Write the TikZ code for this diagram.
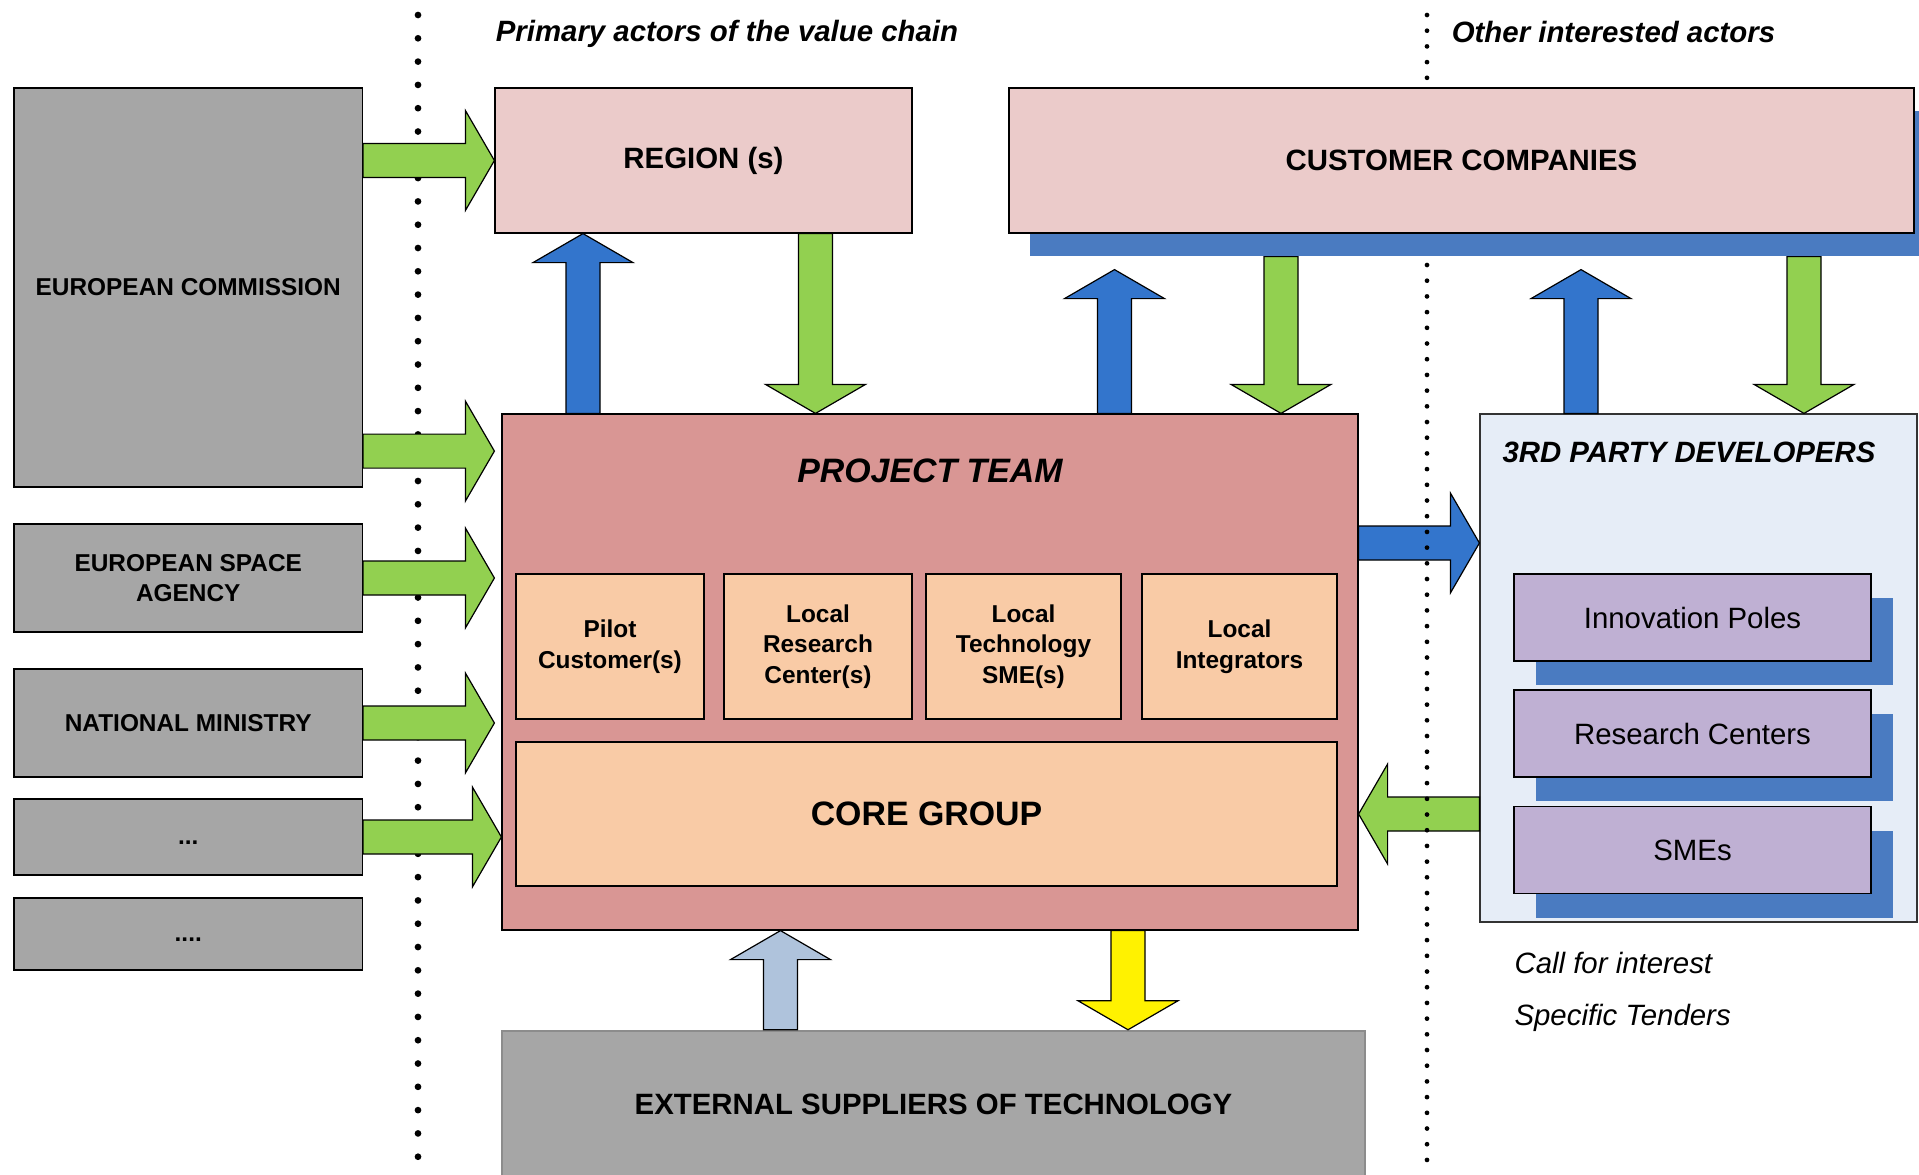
\documentclass[tikz,border=0pt]{standalone}
\usepackage{fontspec}
\setmainfont{Liberation Sans}
\usepackage{tikz}
\usetikzlibrary{calc,shadows}
\definecolor{boxgrey}{HTML}{A6A6A6}
\definecolor{palepink}{HTML}{EBCBCA}
\definecolor{teamred}{HTML}{D99694}
\definecolor{peach}{HTML}{F9CBA6}
\definecolor{arrowgreen}{HTML}{92D050}
\definecolor{arrowblue}{HTML}{3375CC}
\definecolor{shadowblue}{HTML}{4A7BC1}
\definecolor{paleblue}{HTML}{AFC3DC}
\definecolor{thirdfill}{HTML}{E6EDF7}
\definecolor{lilac}{HTML}{BFB0D3}

\newcommand\boxfont{\fontsize{24.5}{30.6}\selectfont}
\newcommand\headfont{\fontsize{29.5}{35}\selectfont}
\newcommand\titlefont{\fontsize{34}{40}\selectfont}
\newcommand\lowdots[1]{\smash{\raisebox{-7bp}{#1}}}

% fat arrow from #2 (tail) to #3 (tip)
\newcommand\blockarrow[3][]{%
	\coordinate (ba-s) at (#2);
	\coordinate (ba-t) at (#3);
	\coordinate (ba-h) at ($(ba-t)!\headlen!(ba-s)$);
	\filldraw[blockarrow,#1] ($(ba-s)!\shaftw!90:(ba-t)$) -- ($(ba-h)!\shaftw!90:(ba-t)$)
		-- ($(ba-h)!\headw!90:(ba-t)$) -- (ba-t) -- ($(ba-h)!\headw!-90:(ba-t)$)
		-- ($(ba-h)!\shaftw!-90:(ba-t)$) -- ($(ba-s)!\shaftw!-90:(ba-t)$) -- cycle;}

\tikzset{
	box/.style={rectangle, draw=black, line width=1.2bp, inner sep=0pt, align=center},
	greybox/.style={box, fill=boxgrey, font=\boxfont\bfseries},
	pinkbox/.style={box, fill=palepink, font=\headfont\bfseries},
	peachbox/.style={box, fill=peach, font=\boxfont\bfseries},
	lilacbox/.style={box, fill=lilac, font=\headfont,
		drop shadow={shadow xshift=22bp, shadow yshift=-24bp, fill=shadowblue, opacity=1}},
	blockarrow/.style={draw=black, line width=1.2bp, line join=miter},
	greenarrow/.style={blockarrow, fill=arrowgreen},
	bluearrow/.style={blockarrow, fill=arrowblue},
	dotline/.style={line cap=round, line width=6.7bp, dash pattern=on 0bp off 23.3bp},
	dotsmall/.style={line cap=round, line width=4.7bp, dash pattern=on 0bp off 15.7bp}
}

\begin{document}
\begin{tikzpicture}[x=1bp, y=-1bp]
	\def\shaftw{17bp}
	\def\headw{50bp}
	\def\headlen{29bp}
	
	\useasboundingbox (0,0) rectangle (1919,1174);
	\clip (0,0) rectangle (1919,1174);
	
	\draw[dotline] (418,15) -- (418,1174);
	
	\node[font=\headfont\bfseries\itshape] (primary) at (727,34) {Primary actors of the value chain};
	\node[font=\headfont\bfseries\itshape] (others) at (1613.5,32) {Other interested actors};
	
	% funding bodies
	\node[greybox, minimum width=348.5bp, minimum height=399bp] (ec) at (188.25,287.5) {EUROPEAN COMMISSION};
	\node[greybox, minimum width=348.5bp, minimum height=108bp] (esa) at (188.25,578) {EUROPEAN SPACE\\AGENCY};
	\node[greybox, minimum width=348.5bp, minimum height=108bp] (nm) at (188.25,723) {NATIONAL MINISTRY};
	\node[greybox, minimum width=348.5bp, minimum height=76bp] (more1) at (188.25,837) {\lowdots{...}};
	\node[greybox, minimum width=348.5bp, minimum height=72bp] (more2) at (188.25,934) {\lowdots{....}};
	
	\node[pinkbox, minimum width=417bp, minimum height=145bp] (region) at (703.5,160.5) {REGION (s)};
	\node[pinkbox, minimum width=905bp, minimum height=145bp,
		drop shadow={shadow xshift=21bp, shadow yshift=-23bp, fill=shadowblue, opacity=1}]
		(cust) at (1461.5,160.5) {CUSTOMER COMPANIES};
	
	% project team and its members
	\node[box, fill=teamred, minimum width=856bp, minimum height=516bp] (team) at (930,672) {};
	\node[font=\titlefont\bfseries\itshape] (team-title) at (930,471) {PROJECT TEAM};
	\node[peachbox, minimum width=188bp, minimum height=145bp] (pilot) at (610,646.5) {Pilot\\Customer(s)};
	\node[peachbox, minimum width=188bp, minimum height=145bp] (research) at (818,646.5) {Local\\Research\\Center(s)};
	\node[peachbox, minimum width=195bp, minimum height=145bp] (tech) at (1023.5,646.5) {Local\\Technology\\SME(s)};
	\node[peachbox, minimum width=195bp, minimum height=145bp] (integ) at (1239.5,646.5) {Local\\Integrators};
	\node[box, fill=peach, font=\titlefont\bfseries, minimum width=821bp, minimum height=144bp] (core) at (926.5,814) {CORE GROUP};
	
	\node[greybox, draw=black!45, line width=2.5bp, font=\headfont\bfseries, minimum width=863bp, minimum height=146bp]
		(ext) at (933.5,1104) {EXTERNAL SUPPLIERS OF TECHNOLOGY};
	
	% third parties
	\node[box, fill=thirdfill, draw=black!80, minimum width=437bp, minimum height=508bp] (third) at (1698.5,668) {};
	\node[font=\headfont\bfseries\itshape, anchor=west] (third-title) at (1499,452) {3RD PARTY DEVELOPERS};
	\node[lilacbox, minimum width=357bp, minimum height=87bp] (innov) at (1692.5,617.5) {Innovation Poles};
	\node[lilacbox, minimum width=357bp, minimum height=87bp] (rescen) at (1692.5,733.5) {Research Centers};
	\node[lilacbox, minimum width=357bp, minimum height=87bp] (smes) at (1692.5,850) {SMEs};
	\node[font=\headfont\itshape, anchor=west] (call) at (1511,963) {Call for interest};
	\node[font=\headfont\itshape, anchor=west] (tenders) at (1511,1018) {Specific Tenders};
	
	% arrows
	\coordinate (ec-out) at ($(ec.south east)+(0,-36.5)$);
	\coordinate (cust-low) at ($(cust.south)+(0,23)$);
	\coordinate (cust-gap) at ($(cust.south)+(0,36)$);
	\coordinate (c1) at (583,0);
	\coordinate (c2) at (815.5,0);
	\coordinate (c3) at (1114.5,0);
	\coordinate (c4) at (1281,0);
	\coordinate (c5) at (1581,0);
	\coordinate (c6) at (1804,0);
	\coordinate (c7) at (780.5,0);
	\coordinate (c8) at (1128,0);
	\coordinate (r1) at (0,543);
	
	\blockarrow[greenarrow]{ec.east |- region.west}{region.west}
	\blockarrow[greenarrow]{ec-out}{region.west |- ec-out}
	\blockarrow[greenarrow]{esa.east}{region.west |- esa.east}
	\blockarrow[greenarrow]{nm.east}{region.west |- nm.east}
	\blockarrow[greenarrow]{more1.east}{team.west |- more1.east}
	
	\blockarrow[bluearrow]{team.north -| c1}{region.south -| c1}
	\blockarrow[greenarrow]{region.south -| c2}{team.north -| c2}
	\blockarrow[bluearrow]{team.north -| c3}{cust-gap -| c3}
	\blockarrow[greenarrow]{cust-low -| c4}{team.north -| c4}
	\blockarrow[bluearrow]{third.north -| c5}{cust-gap -| c5}
	\blockarrow[greenarrow]{cust-low -| c6}{third.north -| c6}
	
	\blockarrow[bluearrow]{team.east |- r1}{third.west |- r1}
	\blockarrow[greenarrow]{third.west |- core.east}{team.east |- core.east}
	
	\blockarrow[blockarrow, fill=paleblue]{ext.north -| c7}{team.south -| c7}
	\blockarrow[blockarrow, fill=yellow]{team.south -| c8}{ext.north -| c8}
	
	\draw[dotsmall] (1427,15) -- (1427,80);
	\draw[dotsmall] (1427,265) -- (1427,1174);
	
\end{tikzpicture}
\end{document}
